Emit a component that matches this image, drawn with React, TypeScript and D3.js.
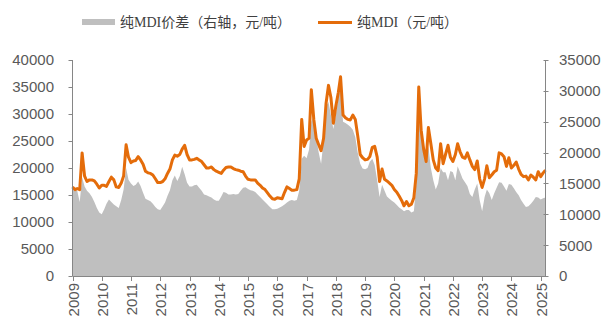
import React from "react";
import * as d3 from "d3";

// Monthly series starting January 2009
const START_YEAR = 2009;

// Pure MDI price, yuan/ton (left axis)
const mdiPrice: number[] = [
  // 2009
  16500, 16000, 16200, 16000, 22800, 18500, 17500, 17800, 17800, 17600, 17000, 16300,
  // 2010
  16800, 16800, 16600, 17500, 18300, 17800, 16500, 16400, 17200, 18500, 24300, 22000,
  // 2011
  21000, 21300, 21400, 22100, 21500, 20700, 19400, 19100, 19000, 18700, 18000, 17300,
  // 2012
  17300, 17500, 18000, 19000, 19800, 21500, 22400, 22200, 22500, 23500, 24200, 22500,
  // 2013
  21500, 21500, 21600, 21800, 21500, 21200, 20600, 20000, 20000, 20200, 19700, 19400,
  // 2014
  19200, 19000, 19600, 20100, 20200, 20200, 19900, 19700, 19600, 19400, 19300, 18500,
  // 2015
  17900, 17800, 17800, 17800, 17200, 16800, 16300, 16000, 15400, 14800, 14300, 14200,
  // 2016
  14500, 14400, 14300, 15500, 16500, 16200, 15900, 15900, 16000, 18000, 29000, 24000,
  // 2017
  25200, 25500, 34500, 29000, 25500, 24300, 23200, 25500, 32000, 35300, 33000, 28300,
  // 2018
  31500, 34000, 36900, 29800, 29300, 29000, 28900, 29800, 29000, 26000, 22500, 21900,
  // 2019
  21500, 21600, 22100, 23800, 24000, 22000, 17500, 19800, 17900, 17600, 17200, 16800,
  // 2020
  16000, 15500, 14800, 14000, 13000, 13800, 13000, 13300, 14500, 19000, 35000, 27000,
  // 2021
  23500, 21200, 27500, 24500, 21500, 20000, 19500, 24500, 20800, 22500, 24200, 22000,
  // 2022
  21200, 22500, 24500, 23000, 22000, 21800, 22800, 21500, 20300, 19700, 21300, 18000,
  // 2023
  16400, 18000, 20400, 18200, 18700, 19300, 19600, 22800, 22600, 22100, 20300, 21900,
  // 2024
  20000, 20500, 21100, 19800, 18800, 18400, 18500, 17800, 18700, 18300, 17800, 19300,
  // 2025
  18400, 19100, 19600,
];

// Pure MDI price spread, yuan/ton (right axis)
const mdiSpread: number[] = [
  // 2009
  14000, 14200, 13800, 12000, 16000, 14500, 13800, 13400, 12800, 12000, 11000, 10300,
  // 2010
  10000, 10800, 11700, 12400, 12000, 11600, 11300, 11000, 12300, 14000, 17500, 15600,
  // 2011
  15000, 14600, 14800, 15300, 14600, 13500, 12500, 12300, 12100, 11700, 11200, 10800,
  // 2012
  10700, 11300, 11900, 13000, 13900, 15500, 16300, 15400, 16200, 17700, 16500, 15100,
  // 2013
  14500, 14500, 14700, 14800, 14300, 13800, 13200, 13100, 12900, 12700, 12400, 12200,
  // 2014
  12200, 12900, 13600, 13500, 13200, 13200, 13300, 13200, 13300, 13800, 14300, 14400,
  // 2015
  14100, 13900, 13800, 13600, 13200, 12800, 12400, 12000, 11600, 11200, 10800, 10800,
  // 2016
  10900, 11100, 11300, 11600, 11900, 12200, 12300, 12200, 12300, 13800, 19000, 19500,
  // 2017
  19100, 20500, 25000, 26000, 22500, 20000, 18200, 22000, 27500, 28200, 26000, 23800,
  // 2018
  26200, 29000, 30500, 25000, 24800, 24500, 24200, 23700, 22500, 20000, 18200, 17400,
  // 2019
  17300, 17500, 18500, 19000, 18000, 15500, 12800, 14800, 13800, 12900, 12500, 12200,
  // 2020
  11900, 11500, 11100, 10800, 10500, 10700, 10700, 10300, 10500, 15000, 31000, 25500,
  // 2021
  20500, 18500, 21000, 17500, 15500, 14000, 15000, 17500, 16800, 16800, 15500, 17000,
  // 2022
  16800, 15500, 17800, 16800, 15800, 15200, 14600, 13300, 12800, 14000, 15000, 12300,
  // 2023
  10500, 12800, 14000, 13400, 12300, 13400, 14300, 15200, 15100, 14500, 13800, 14900,
  // 2024
  14800, 14200, 13600, 13100, 12300, 11700, 11200, 11300, 11700, 12200, 12800, 12700,
  // 2025
  12400, 12600, 12700,
];

const leftTicks = [0, 5000, 10000, 15000, 20000, 25000, 30000, 35000, 40000];
const rightTicks = [0, 5000, 10000, 15000, 20000, 25000, 30000, 35000];
const yearTicks = d3.range(2009, 2026);

const legendSpread = "纯MDI价差（右轴，元/吨）";
const legendPrice = "纯MDI（元/吨）";

const W = 606;
const H = 323;
const plot = { left: 72.5, right: 545.5, top: 60, bottom: 276 };

const GRAY = "#bfbfbf";
const ORANGE = "#e46c0a";
const AXIS = "#868686";
const TEXT = "#595959";
const TICK_FONT = "'Liberation Sans', Arial, sans-serif";

export default function App() {
  const x = d3
    .scaleTime()
    .domain([new Date(START_YEAR, 0, 1), new Date(2025, 2, 2)])
    .range([plot.left, plot.right]);
  const yL = d3.scaleLinear().domain([0, 40000]).range([plot.bottom, plot.top]);
  const yR = d3.scaleLinear().domain([0, 35000]).range([plot.bottom, plot.top]);

  const dateAt = (i: number) => new Date(START_YEAR, i, 1);

  const area = d3
    .area<number>()
    .x((_, i) => x(dateAt(i)))
    .y0(plot.bottom)
    .y1((d) => yR(d));

  const line = d3
    .line<number>()
    .x((_, i) => x(dateAt(i)))
    .y((d) => yL(d));

  return (
    <svg
      width={W}
      height={H}
      style={{ position: "absolute", left: 0, top: 0, background: "#fff" }}
    >
      {/* legend */}
      <g fontFamily="'Liberation Serif', 'Noto Sans CJK SC', serif" fontSize={14} fill="#404040">
        <rect x={82} y={19} width={33} height={6} fill={GRAY} />
        <text x={120} y={27}>{legendSpread}</text>
        <line x1={318} x2={352} y1={22.5} y2={22.5} stroke={ORANGE} strokeWidth={3} />
        <text x={357} y={27}>{legendPrice}</text>
      </g>

      {/* spread area, right axis */}
      <path d={area(mdiSpread) ?? ""} fill={GRAY} />
      {/* price line, left axis */}
      <path
        d={line(mdiPrice) ?? ""}
        fill="none"
        stroke={ORANGE}
        strokeWidth={3}
        strokeLinejoin="round"
      />

      {/* left axis */}
      <g fontFamily={TICK_FONT} fontSize={15} fill={TEXT}>
        <line x1={plot.left} x2={plot.left} y1={plot.top} y2={plot.bottom} stroke={AXIS} />
        {leftTicks.map((t) => (
          <g key={`l${t}`}>
            <line
              x1={plot.left - 4}
              x2={plot.left}
              y1={Math.round(yL(t)) + 0.5}
              y2={Math.round(yL(t)) + 0.5}
              stroke={AXIS}
            />
            <text x={54} y={yL(t)} dy="0.36em" textAnchor="end">
              {t}
            </text>
          </g>
        ))}
      </g>

      {/* right axis */}
      <g fontFamily={TICK_FONT} fontSize={15} fill={TEXT}>
        <line x1={plot.right} x2={plot.right} y1={plot.top} y2={plot.bottom} stroke={AXIS} />
        {rightTicks.map((t) => (
          <g key={`r${t}`}>
            <line
              x1={plot.right - 2}
              x2={plot.right + 3}
              y1={Math.round(yR(t)) + 0.5}
              y2={Math.round(yR(t)) + 0.5}
              stroke={AXIS}
            />
            <text x={559} y={yR(t)} dy="0.36em" textAnchor="start">
              {t}
            </text>
          </g>
        ))}
      </g>

      {/* bottom axis */}
      <g fontFamily={TICK_FONT} fontSize={15} fill={TEXT}>
        <line
          x1={plot.left}
          x2={plot.right}
          y1={plot.bottom + 0.5}
          y2={plot.bottom + 0.5}
          stroke={AXIS}
        />
        {yearTicks.map((yr) => {
          const px = Math.round(x(new Date(yr, 0, 1))) + 0.5;
          return (
            <g key={`x${yr}`}>
              <line x1={px} x2={px} y1={plot.bottom} y2={plot.bottom + 5} stroke={AXIS} />
              <text
                transform={`translate(${px},${plot.bottom + 7}) rotate(-90)`}
                dy="0.36em"
                textAnchor="end"
              >
                {yr}
              </text>
            </g>
          );
        })}
      </g>
    </svg>
  );
}
